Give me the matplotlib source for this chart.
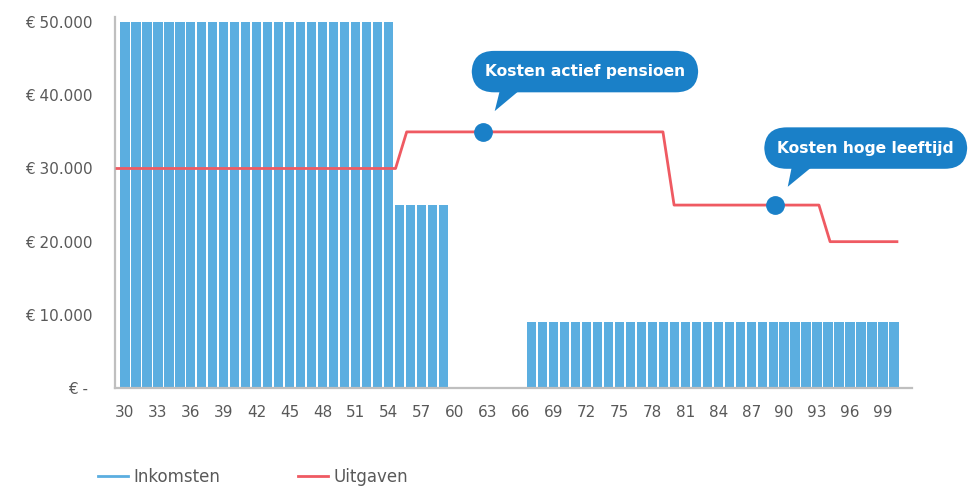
import matplotlib
matplotlib.use("Agg")
import matplotlib.pyplot as plt
from matplotlib.lines import Line2D
from matplotlib.patches import Polygon

# ages on the category axis, 30 up to 100
ages = list(range(30, 101))

# yearly income per age (salary, part-time, gap, state pension)
inkomsten = [50000] * 25 + [25000] * 5 + [0] * 7 + [9000] * 34

# yearly spending per age
uitgaven = [30000] * 26 + [35000] * 24 + [25000] * 14 + [20000] * 7

y_ticks = [0, 10000, 20000, 30000, 40000, 50000]
y_labels = ["€ - ", "€ 10.000", "€ 20.000", "€ 30.000", "€ 40.000", "€ 50.000"]

# callout texts with the spot on the spending line they point to
callouts = ["Kosten actief pensioen", "Kosten hoge leeftijd"]
callout_idx = [32.85, 59.05]
callout_val = [35000, 25000]

blue = "#5BAEE0"
red = "#EF5A62"
dark_blue = "#1A80C8"
grey_txt = "#595959"
grey_axis = "#BFBFBF"

plt.rcParams["font.family"] = ["DejaVu Sans"]

fig = plt.figure(figsize=(9.76, 4.86), dpi=100)
ax = fig.add_axes([0.1178, 0.2016, 0.8166, 0.7634])

ax.bar(ages, inkomsten, width=0.84, color=blue, zorder=2)
ax.set_xlim(29.09, 101.64)
ax.set_ylim(0, 50700)

ax.set_xticks(ages[::3])
ax.set_xticklabels([str(a) for a in ages[::3]])
ax.set_yticks(y_ticks)
ax.set_yticklabels(y_labels)
ax.tick_params(axis="both", length=0, colors=grey_txt, labelsize=11)
ax.tick_params(axis="x", pad=12)
ax.tick_params(axis="y", pad=16)

for s in ["top", "right"]:
    ax.spines[s].set_visible(False)
for s in ["left", "bottom"]:
    ax.spines[s].set_color(grey_axis)
    ax.spines[s].set_linewidth(1.6)

# spending line on its own category scale (runs edge to edge)
ax2 = ax.twiny()
ax2.set_xlim(-0.18, 71.35)
ax2.plot(range(len(uitgaven)), uitgaven, color=red, lw=2, zorder=3)
ax2.set_xticks([])
for s in ax2.spines.values():
    s.set_visible(False)

# speech bubbles: text box plus a small tail under it
bubble_pos = [(42.0, 43240), (67.2, 32790)]
tails = [
    [(34.4, 40900), (36.3, 40900), (33.9, 37840)],
    [(60.6, 30500), (62.6, 30500), (60.2, 27500)],
]
for txt, xi, yv, bp, tail in zip(callouts, callout_idx, callout_val, bubble_pos, tails):
    ax2.plot(xi, yv, "o", color=dark_blue, markersize=12.5, zorder=4)
    ax2.add_patch(Polygon(tail, closed=True, fc=dark_blue, ec="none", zorder=5))
    ax2.text(bp[0], bp[1], txt, ha="center", va="center",
             color="white", fontsize=11.2, fontweight="bold", zorder=6,
             bbox=dict(boxstyle="round,pad=0.85,rounding_size=1.45",
                       fc=dark_blue, ec="none"))

handles = [Line2D([], [], color=blue, lw=2), Line2D([], [], color=red, lw=2)]
fig.legend(handles, ["Inkomsten", "Uitgaven"], loc="center left",
           bbox_to_anchor=(0.1004, 0.0185), ncol=2, frameon=False,
           fontsize=12, labelcolor=grey_txt, handlelength=1.8,
           handletextpad=0.3, columnspacing=4.7, borderpad=0, borderaxespad=0)

fig.savefig("out.png", dpi=100)
